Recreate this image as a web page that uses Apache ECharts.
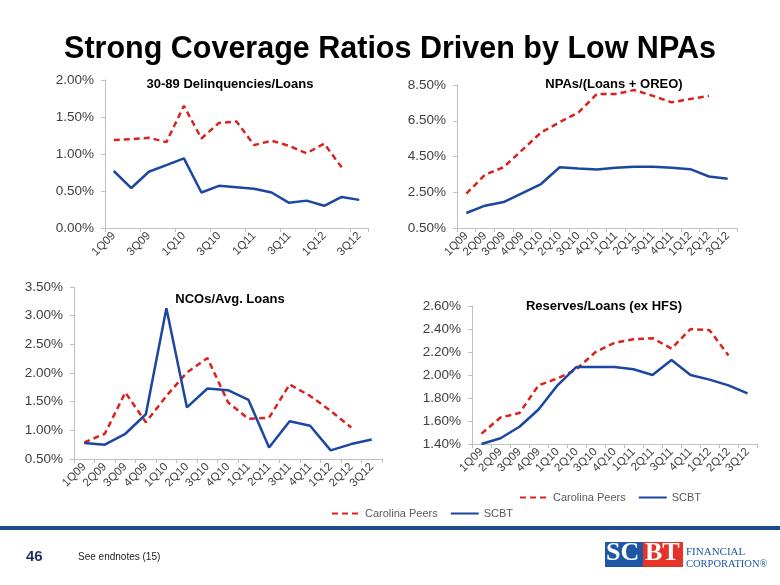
<!DOCTYPE html>
<html><head><meta charset="utf-8">
<script src="https://cdn.jsdelivr.net/npm/echarts@6/dist/echarts.min.js"></script>
<style>html,body{margin:0;padding:0;background:#fff}#c{width:780px;height:585px}</style>
</head><body><div id="c"></div>
<script>
var quarters = ['1Q09','2Q09','3Q09','4Q09','1Q10','2Q10','3Q10','4Q10','1Q11','2Q11','3Q11','4Q11','1Q12','2Q12','3Q12'];
var seriesNames = ['Carolina Peers','SCBT'];

var delinqPeers = [1.19,1.20,1.22,1.16,1.65,1.21,1.42,1.44,1.12,1.18,1.11,1.01,1.14,0.82,null];
var delinqSCBT  = [0.77,0.54,0.76,0.85,0.94,0.48,0.57,0.55,0.53,0.48,0.34,0.37,0.30,0.42,0.38];

var npaPeers = [2.42,3.48,3.90,4.87,5.84,6.42,6.96,8.00,8.00,8.22,7.89,7.53,7.72,7.89,null];
var npaSCBT  = [1.34,1.75,1.95,2.45,2.96,3.90,3.83,3.77,3.87,3.92,3.92,3.87,3.79,3.38,3.25];

var ncoPeers = [0.79,0.94,1.66,1.14,1.60,2.01,2.26,1.49,1.20,1.22,1.80,1.60,1.34,1.05,null];
var ncoSCBT  = [0.78,0.75,0.94,1.28,3.13,1.40,1.73,1.70,1.53,0.70,1.16,1.08,0.65,0.76,0.84];

var resPeers = [1.49,1.63,1.67,1.91,1.97,2.05,2.20,2.28,2.31,2.32,2.23,2.40,2.39,2.17,null];
var resSCBT  = [1.40,1.45,1.55,1.70,1.91,2.07,2.07,2.07,2.05,2.00,2.13,2.00,1.96,1.91,1.84];

var chartTitles = ['30-89 Delinquencies/Loans','NPAs/(Loans + OREO)','NCOs/Avg. Loans','Reserves/Loans (ex HFS)'];
var mainTitle = 'Strong Coverage Ratios Driven by Low NPAs';

var RED = '#d9231f', BLUE = '#1c47a0', GREY = '#404040', AXIS = '#bfbfbf';
var FONT = 'Liberation Sans';

var grids = [
  {left:105, top:80, width:263, height:148},
  {left:457, top:85, width:280, height:143},
  {left:74, top:287, width:308, height:172},
  {left:472, top:306, width:285, height:138}
];
var yCfg = [
  {min:0, max:2, interval:0.5},
  {min:0.5, max:8.5, interval:2},
  {min:0.5, max:3.5, interval:0.5},
  {min:1.4, max:2.6, interval:0.2}
];
var labelInterval = [1,0,0,0];
var data = [[delinqPeers,delinqSCBT],[npaPeers,npaSCBT],[ncoPeers,ncoSCBT],[resPeers,resSCBT]];
var titlePos = [[225,73],[609,73],[225,288],[599,295]];

var xAxes = [], yAxes = [], series = [], titles = [];
titles.push({text:mainTitle, left:'center', top:29, textStyle:{fontFamily:FONT, fontSize:30.5, fontWeight:'bold', color:'#000'}});
for (var i=0;i<4;i++){
  xAxes.push({type:'category', gridIndex:i, data:quarters, boundaryGap:true,
    axisLine:{lineStyle:{color:AXIS}}, axisTick:{show:true, length:4, lineStyle:{color:AXIS}},
    axisLabel:{interval:labelInterval[i], rotate:45, fontFamily:FONT, fontSize:11.5, color:GREY, margin:6}});
  yAxes.push({type:'value', gridIndex:i, min:yCfg[i].min, max:yCfg[i].max, interval:yCfg[i].interval,
    splitLine:{show:false}, axisLine:{show:true, lineStyle:{color:AXIS}}, axisTick:{show:true, length:4, lineStyle:{color:AXIS}},
    axisLabel:{fontFamily:FONT, fontSize:13.5, color:GREY, margin:11, formatter:function(v){return v.toFixed(2)+'%';}}});
  series.push({name:seriesNames[0], type:'line', xAxisIndex:i, yAxisIndex:i, data:data[i][0], showSymbol:false, symbol:'none',
    lineStyle:{color:RED, width:2.5, type:[6,4]}, itemStyle:{color:RED}, connectNulls:false, animation:false});
  series.push({name:seriesNames[1], type:'line', xAxisIndex:i, yAxisIndex:i, data:data[i][1], showSymbol:false, symbol:'none',
    lineStyle:{color:BLUE, width:2.5}, itemStyle:{color:BLUE}, animation:false});
  titles.push({text:chartTitles[i], left:titlePos[i][0], top:titlePos[i][1], textAlign:'center',
    textStyle:{fontFamily:FONT, fontSize:13, fontWeight:'bold', color:'#000'}});
}

var legendBase = {data:seriesNames, itemWidth:28, itemHeight:10, itemGap:12,
  itemStyle:{opacity:0},
  textStyle:{fontFamily:FONT, fontSize:11, color:'#595959'}};
var legends = [
  Object.assign({}, legendBase, {left:326, top:503}),
  Object.assign({}, legendBase, {left:514, top:487})
];

var chart = echarts.init(document.getElementById('c'), null, {renderer:'canvas'});
chart.setOption({
  animation:false,
  backgroundColor:'#fff',
  title:titles,
  grid:grids,
  xAxis:xAxes,
  yAxis:yAxes,
  legend:legends,
  series:series,
  graphic:[
    {type:'rect', left:0, top:526, shape:{width:780, height:4}, style:{fill:'#1f4e8c'}},
    {type:'text', left:26, top:549, style:{text:'46', font:'bold 15px "Liberation Sans"', fill:'#1f2f5c'}},
    {type:'text', left:78, top:552, style:{text:'See endnotes (15)', font:'10px "Liberation Sans"', fill:'#222'}},
    {type:'rect', left:605, top:542, shape:{width:38, height:25}, style:{fill:'#1f57a4'}},
    {type:'rect', left:643, top:542, shape:{width:40, height:25}, style:{fill:'#e5332a'}},
    {type:'text', left:606, top:540, style:{text:'SC', font:'bold 26px "Liberation Serif"', fill:'#fff'}},
    {type:'text', left:645, top:540, style:{text:'BT', font:'bold 26px "Liberation Serif"', fill:'#fff'}},
    {type:'text', left:686, top:547, style:{text:'FINANCIAL', font:'11px "Liberation Serif"', fill:'#1f57a4'}},
    {type:'text', left:686, top:559, style:{text:'CORPORATION\u00ae', font:'10.5px "Liberation Serif"', fill:'#1f57a4'}}
  ]
});
</script></body></html>
